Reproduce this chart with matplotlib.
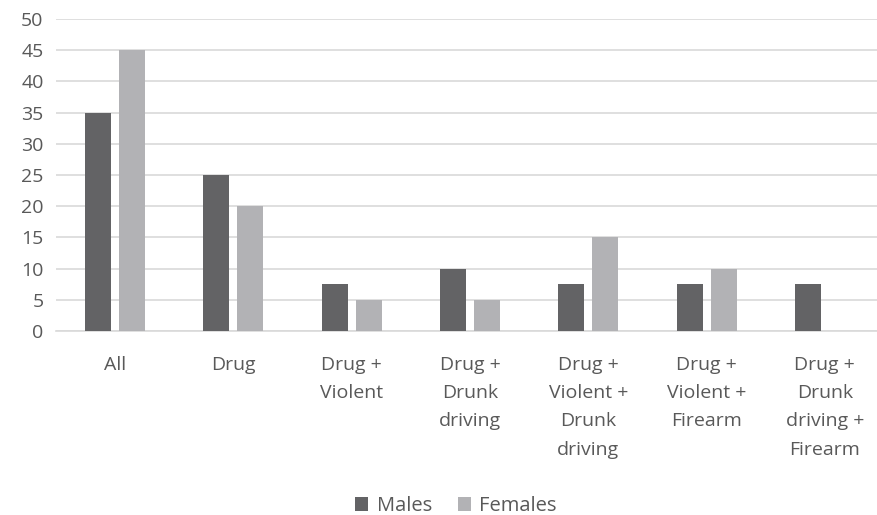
import matplotlib
matplotlib.use('Agg')
import matplotlib.pyplot as plt
import numpy as np

categories = ['All', 'Drug', 'Drug +\nViolent', 'Drug +\nDrunk\ndriving',
              'Drug +\nViolent +\nDrunk\ndriving', 'Drug +\nViolent +\nFirearm',
              'Drug +\nDrunk\ndriving +\nFirearm']
males = [35, 25, 7.5, 10, 7.5, 7.5, 7.5]
females = [45, 20, 5, 5, 15, 10, 0]
yticks = list(range(0, 51, 5))

DARK = '#636365'
LIGHT = '#b2b2b5'
TEXT = '#595959'

plt.rcParams['font.family'] = ['Open Sans', 'DejaVu Sans']

fig = plt.figure(figsize=(8.77, 5.15), dpi=100)
ax = fig.add_axes([56 / 877, 1 - 331 / 515, 828 / 877, 312 / 515])

x = np.arange(len(categories))
w = 0.22
off = 0.144
ax.bar(x - off, males, w, color=DARK, label='Males', zorder=3)
ax.bar(x + off, females, w, color=LIGHT, label='Females', zorder=3)

ax.set_xlim(-0.5, len(categories) - 0.5)
ax.set_ylim(0, 50)
ax.set_yticks(yticks)
ax.yaxis.grid(True, color='#d9d9d9', linewidth=1.2, zorder=0)
ax.set_axisbelow(True)
for s in ['top', 'right', 'left']:
    ax.spines[s].set_visible(False)
ax.spines['bottom'].set_color('#d9d9d9')
ax.spines['bottom'].set_linewidth(1.2)

ax.set_xticks(x)
ax.set_xticklabels(categories, linespacing=1.73)
ax.tick_params(axis='both', length=0, labelsize=14, labelcolor=TEXT)
ax.tick_params(axis='x', pad=18)
ax.tick_params(axis='y', pad=9)

ax.legend(loc='center', bbox_to_anchor=(456 / 877, 1 - 506 / 515),
          bbox_transform=fig.transFigure, ncol=2, frameon=False,
          fontsize=14.5, labelcolor=TEXT, handlelength=0.65, handleheight=0.65,
          handletextpad=0.4, columnspacing=1.3)

fig.savefig('out.png', dpi=100)
